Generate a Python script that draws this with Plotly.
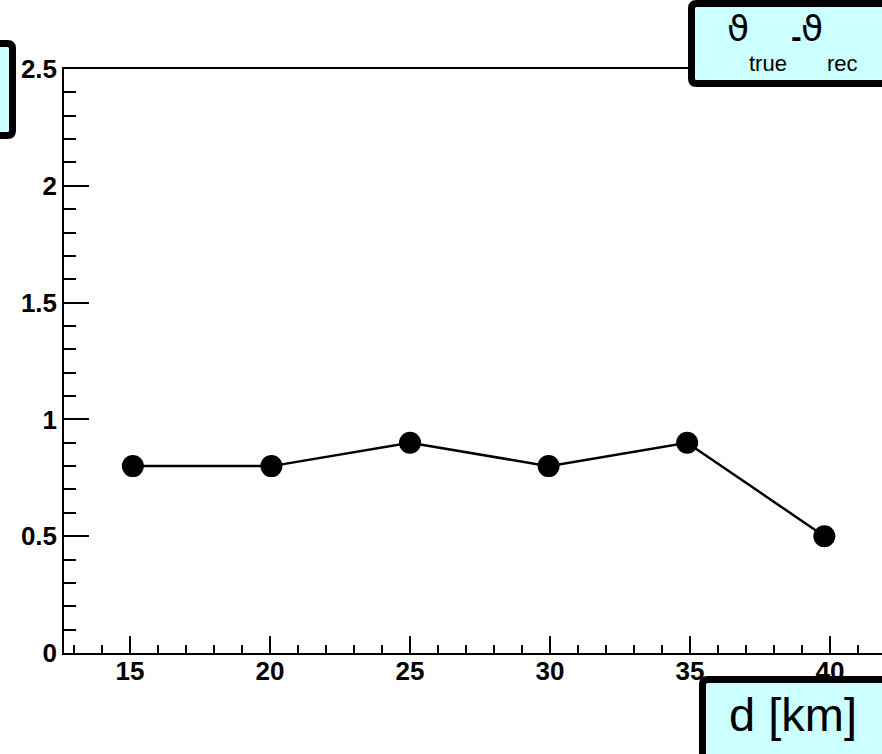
import plotly.graph_objects as go

# ---- data ----
distance_km = [15.1, 20.05, 25.0, 29.95, 34.9, 39.8]
theta_diff = [0.80, 0.80, 0.90, 0.80, 0.90, 0.50]

W, H = 882, 754
L, R, T, B = 64, 0, 69, 101
PW, PH = W - L - R, H - T - B


def px(x):
    return (x - L) / PW


def py(y):
    return (H - B - y) / PH


def rounded_box(x0, y0, x1, y1, r=5):
    # pixel coords (y down) -> path in paper coords
    pts = [
        f"M {px(x0 + r)},{py(y0)}",
        f"L {px(x1 - r)},{py(y0)}",
        f"Q {px(x1)},{py(y0)} {px(x1)},{py(y0 + r)}",
        f"L {px(x1)},{py(y1 - r)}",
        f"Q {px(x1)},{py(y1)} {px(x1 - r)},{py(y1)}",
        f"L {px(x0 + r)},{py(y1)}",
        f"Q {px(x0)},{py(y1)} {px(x0)},{py(y1 - r)}",
        f"L {px(x0)},{py(y0 + r)}",
        f"Q {px(x0)},{py(y0)} {px(x0 + r)},{py(y0)}",
        "Z",
    ]
    return " ".join(pts)


fig = go.Figure()
fig.add_trace(go.Scatter(
    x=distance_km, y=theta_diff, mode="lines+markers",
    line=dict(color="black", width=2.5),
    marker=dict(color="black", size=22),
    showlegend=False,
))

box_style = dict(type="path", xref="paper", yref="paper", layer="above",
                 fillcolor="#ccffff", line=dict(color="black", width=7))

shapes = [
    dict(path=rounded_box(691.5, 3.5, 930, 83.5), **box_style),
    dict(path=rounded_box(-30, 43.5, 12.5, 135.5), **box_style),
    dict(path=rounded_box(702.5, 679.5, 930, 800), **box_style),
]

font_txt = "Liberation Sans, Arial, Helvetica, sans-serif"
font_sym = "DejaVu Sans, sans-serif"
ann = []


def add_text(text, x, y, size, xanchor="left", yanchor="middle",
             family=font_txt, weight="normal"):
    ann.append(dict(text=text, x=px(x), y=py(y), xref="paper", yref="paper",
                    xanchor=xanchor, yanchor=yanchor, showarrow=False,
                    font=dict(family=family, size=size, color="black",
                              weight=weight)))


add_text("ϑ", 738, 29, 36, xanchor="center", family=font_sym)
add_text("true", 768, 63, 22, xanchor="center")
add_text("-", 796, 36, 32, xanchor="center", weight="bold")
add_text("ϑ", 812, 29, 36, xanchor="center", family=font_sym)
add_text("rec", 842, 63, 22, xanchor="center")
add_text("d [km]", 793, 714, 47, xanchor="center")

tickfont = dict(family=font_txt, size=26, color="black", weight="bold")

fig.update_layout(
    width=W, height=H,
    margin=dict(l=L, r=R, t=T, b=B, pad=0),
    paper_bgcolor="white", plot_bgcolor="white",
    shapes=shapes, annotations=ann,
    xaxis=dict(
        range=[12.64, 41.86], showgrid=False, zeroline=False,
        showline=True, linecolor="black", linewidth=1.5, mirror=True,
        ticks="inside", ticklen=17, tickwidth=1.5, tickcolor="black",
        tick0=15, dtick=5, tickfont=tickfont, ticklabelstandoff=-6,
        minor=dict(ticks="inside", ticklen=8, tickwidth=1.5, tickcolor="black",
                   dtick=1, tick0=15, showgrid=False),
    ),
    yaxis=dict(
        range=[0, 2.5], showgrid=False, zeroline=False,
        showline=True, linecolor="black", linewidth=1.5, mirror=False,
        ticks="inside", ticklen=25, tickwidth=1.5, tickcolor="black",
        tick0=0, dtick=0.5, tickfont=tickfont,
        minor=dict(ticks="inside", ticklen=12, tickwidth=1.5, tickcolor="black",
                   dtick=0.1, tick0=0, showgrid=False),
    ),
)

fig.write_html("out.html")
